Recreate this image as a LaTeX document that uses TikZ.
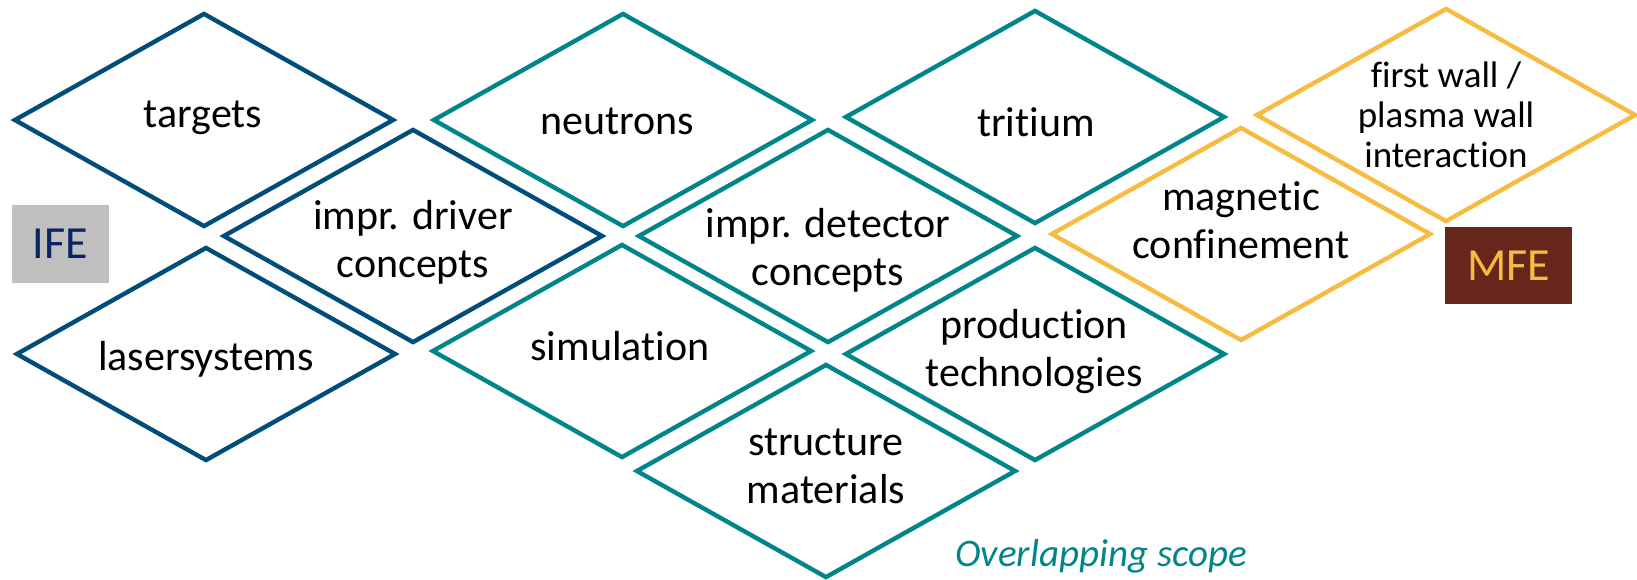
\documentclass[tikz,border=0pt]{standalone}
\usepackage{fontspec}
\setmainfont{Carlito}[RawFeature=-liga]
\usepackage{xcolor}
\usepackage{tikz}
\usetikzlibrary{shapes.geometric}

\definecolor{ifeblue}{RGB}{0,76,122}
\definecolor{scopeteal}{RGB}{0,133,138}
\definecolor{mfeyellow}{RGB}{246,187,64}
\definecolor{ifegray}{RGB}{191,191,191}
\definecolor{ifenavy}{RGB}{10,36,99}
\definecolor{mfebrown}{RGB}{103,38,28}

\begin{document}
\begin{tikzpicture}[x=0.5pt, y=-0.5pt,
        topic/.style={diamond, draw, line width=2.2pt, inner sep=0pt,
            minimum width=190pt, minimum height=107pt},
        ifetopic/.style={topic, draw=ifeblue},
        overlaptopic/.style={topic, draw=scopeteal},
        mfetopic/.style={topic, draw=mfeyellow},
        topictext/.style={align=center, font=\fontsize{21}{24}\selectfont},
        tag/.style={inner sep=0pt, font=\fontsize{23}{26}\selectfont}]
        \useasboundingbox (0, 0) rectangle (1637, 579);

        % IFE side
        \node[ifetopic] (targets) at (204, 120) {};
        \node[ifetopic] (driver) at (413, 236) {};
        \node[ifetopic] (lasers) at (206, 354) {};

        % overlapping scope
        \node[overlaptopic] (neutrons) at (623, 120) {};
        \node[overlaptopic] (detector) at (828, 236) {};
        \node[overlaptopic] (simulation) at (622, 351) {};
        \node[overlaptopic] (structure) at (826, 471) {};
        \node[overlaptopic] (tritium) at (1035, 117) {};
        \node[overlaptopic] (production) at (1035, 354) {};

        % MFE side
        \node[mfetopic] (magnetic) at (1241, 234) {};
        \node[mfetopic] (firstwall) at (1446, 115) {};

        \node[topictext] (targets-t) at (203, 117.5) {targets};
        \node[topictext] (driver-t) at (413, 242.5) {impr. driver\\concepts};
        \node[topictext] (lasers-t) at (206, 359) {lasersystems};
        \node[topictext] (neutrons-t) at (617, 121.5) {neutrons};
        \node[topictext] (detector-t) at (828, 250.5) {impr. detector\\concepts};
        \node[topictext] (simulation-t) at (620, 346.5) {simulation};
        \node[topictext] (structure-t) at (826, 466) {structure\\materials};
        \node[topictext] (tritium-t) at (1036, 122) {tritium};
        \node[topictext] (production-t) at (1034, 351.5) {production\\technologies};
        \node[topictext] (magnetic-t) at (1241, 220) {magnetic\\confinement};
        \node[topictext, font=\fontsize{18.5}{20}\selectfont] (firstwall-t) at (1446, 115)
            {first wall /\\plasma wall\\interaction};

        \node[tag, fill=ifegray, text=ifenavy, minimum width=48.5pt, minimum height=39pt]
            (ife) at (60.5, 244) {IFE};
        \node[tag, fill=mfebrown, text=mfeyellow, minimum width=63.5pt, minimum height=38.5pt]
            (mfe) at (1508.5, 265.5) {MFE};

        \node[font=\fontsize{19.5}{22}\selectfont\itshape, text=scopeteal] (scope)
            at (1101, 556.5) {Overlapping scope};
    \end{tikzpicture}
\end{document}
